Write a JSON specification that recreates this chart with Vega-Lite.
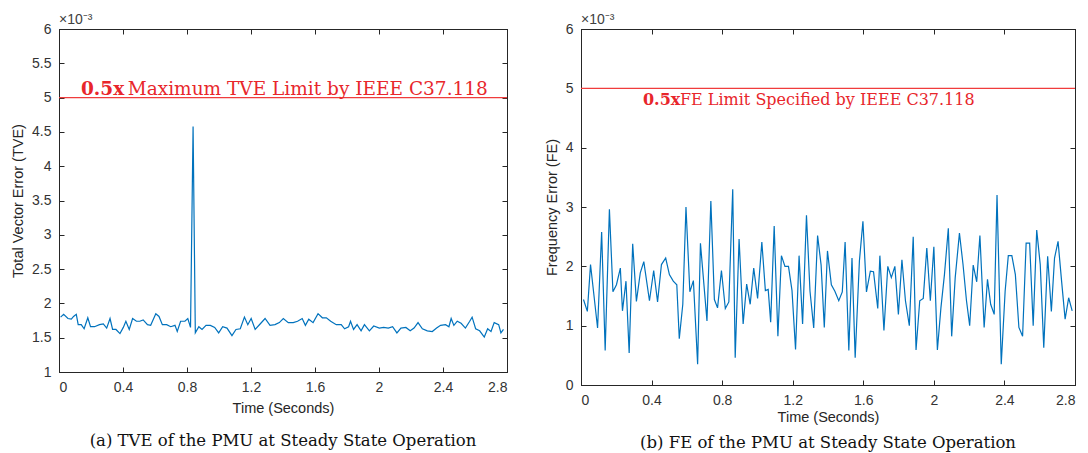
{
  "$schema": "https://vega.github.io/schema/vega-lite/v6.json",
  "background": "white",
  "padding": {"left": 10, "top": 12, "right": 3, "bottom": 2},
  "config": {
    "view": {"stroke": "#262626", "strokeWidth": 1},
    "concat": {"spacing": 34},
    "axis": {
      "grid": false,
      "labelFont": "Liberation Sans",
      "labelFontSize": 14,
      "labelColor": "#333333",
      "titleFont": "Liberation Sans",
      "titleFontSize": 14.5,
      "titleFontWeight": "normal",
      "titleColor": "#262626",
      "domainColor": "#262626",
      "tickColor": "#262626",
      "tickSize": -5,
      "labelPadding": 13,
      "format": "~g"
    },
    "title": {"font": "DejaVu Serif", "fontSize": 16.5, "fontWeight": "normal", "color": "#111111", "orient": "bottom", "anchor": "middle"}
  },
  "datasets": {
    "tve": [
      {"time": 0.010, "tve": 0.00180}, {"time": 0.029, "tve": 0.00184}, {"time": 0.056, "tve": 0.00178}, {"time": 0.077, "tve": 0.00177},
      {"time": 0.091, "tve": 0.00181}, {"time": 0.108, "tve": 0.00184}, {"time": 0.120, "tve": 0.00169}, {"time": 0.139, "tve": 0.00169},
      {"time": 0.157, "tve": 0.00163}, {"time": 0.180, "tve": 0.00179}, {"time": 0.197, "tve": 0.00166}, {"time": 0.222, "tve": 0.00166},
      {"time": 0.253, "tve": 0.00169}, {"time": 0.277, "tve": 0.00170}, {"time": 0.298, "tve": 0.00164}, {"time": 0.319, "tve": 0.00178},
      {"time": 0.335, "tve": 0.00162}, {"time": 0.356, "tve": 0.00162}, {"time": 0.381, "tve": 0.00156}, {"time": 0.402, "tve": 0.00165},
      {"time": 0.418, "tve": 0.00174}, {"time": 0.439, "tve": 0.00162}, {"time": 0.460, "tve": 0.00178}, {"time": 0.484, "tve": 0.00174},
      {"time": 0.505, "tve": 0.00174}, {"time": 0.526, "tve": 0.00176}, {"time": 0.553, "tve": 0.00169}, {"time": 0.573, "tve": 0.00168},
      {"time": 0.605, "tve": 0.00185}, {"time": 0.625, "tve": 0.00181}, {"time": 0.646, "tve": 0.00169}, {"time": 0.673, "tve": 0.00169},
      {"time": 0.698, "tve": 0.00166}, {"time": 0.725, "tve": 0.00168}, {"time": 0.739, "tve": 0.00159}, {"time": 0.760, "tve": 0.00174},
      {"time": 0.787, "tve": 0.00174}, {"time": 0.805, "tve": 0.00178}, {"time": 0.822, "tve": 0.00165}, {"time": 0.838, "tve": 0.00458},
      {"time": 0.852, "tve": 0.00157}, {"time": 0.874, "tve": 0.00166}, {"time": 0.894, "tve": 0.00162}, {"time": 0.919, "tve": 0.00168},
      {"time": 0.946, "tve": 0.00168}, {"time": 0.973, "tve": 0.00165}, {"time": 0.998, "tve": 0.00157}, {"time": 1.023, "tve": 0.00166},
      {"time": 1.050, "tve": 0.00164}, {"time": 1.081, "tve": 0.00153}, {"time": 1.106, "tve": 0.00162}, {"time": 1.133, "tve": 0.00163},
      {"time": 1.159, "tve": 0.00180}, {"time": 1.180, "tve": 0.00169}, {"time": 1.201, "tve": 0.00178}, {"time": 1.226, "tve": 0.00162},
      {"time": 1.257, "tve": 0.00170}, {"time": 1.288, "tve": 0.00178}, {"time": 1.319, "tve": 0.00168}, {"time": 1.350, "tve": 0.00169},
      {"time": 1.377, "tve": 0.00172}, {"time": 1.402, "tve": 0.00178}, {"time": 1.433, "tve": 0.00172}, {"time": 1.464, "tve": 0.00172},
      {"time": 1.491, "tve": 0.00174}, {"time": 1.520, "tve": 0.00178}, {"time": 1.540, "tve": 0.00168}, {"time": 1.561, "tve": 0.00177},
      {"time": 1.588, "tve": 0.00172}, {"time": 1.619, "tve": 0.00185}, {"time": 1.646, "tve": 0.00179}, {"time": 1.671, "tve": 0.00179},
      {"time": 1.698, "tve": 0.00174}, {"time": 1.733, "tve": 0.00169}, {"time": 1.764, "tve": 0.00169}, {"time": 1.785, "tve": 0.00163},
      {"time": 1.810, "tve": 0.00166}, {"time": 1.822, "tve": 0.00174}, {"time": 1.841, "tve": 0.00162}, {"time": 1.863, "tve": 0.00169},
      {"time": 1.888, "tve": 0.00160}, {"time": 1.909, "tve": 0.00169}, {"time": 1.940, "tve": 0.00160}, {"time": 1.967, "tve": 0.00167},
      {"time": 2.002, "tve": 0.00164}, {"time": 2.029, "tve": 0.00165}, {"time": 2.058, "tve": 0.00164}, {"time": 2.085, "tve": 0.00166},
      {"time": 2.112, "tve": 0.00157}, {"time": 2.137, "tve": 0.00164}, {"time": 2.168, "tve": 0.00165}, {"time": 2.195, "tve": 0.00160},
      {"time": 2.219, "tve": 0.00164}, {"time": 2.244, "tve": 0.00172}, {"time": 2.271, "tve": 0.00163}, {"time": 2.302, "tve": 0.00160},
      {"time": 2.333, "tve": 0.00159}, {"time": 2.360, "tve": 0.00164}, {"time": 2.385, "tve": 0.00168}, {"time": 2.416, "tve": 0.00169},
      {"time": 2.437, "tve": 0.00166}, {"time": 2.451, "tve": 0.00178}, {"time": 2.468, "tve": 0.00168}, {"time": 2.489, "tve": 0.00174},
      {"time": 2.513, "tve": 0.00171}, {"time": 2.540, "tve": 0.00164}, {"time": 2.567, "tve": 0.00174}, {"time": 2.582, "tve": 0.00180},
      {"time": 2.604, "tve": 0.00163}, {"time": 2.629, "tve": 0.00160}, {"time": 2.658, "tve": 0.00151}, {"time": 2.679, "tve": 0.00163},
      {"time": 2.700, "tve": 0.00159}, {"time": 2.720, "tve": 0.00172}, {"time": 2.748, "tve": 0.00169}, {"time": 2.762, "tve": 0.00157},
      {"time": 2.778, "tve": 0.00162}
    ],
    "fe": [
      {"time": 0.014, "fe": 0.00144}, {"time": 0.036, "fe": 0.00124}, {"time": 0.054, "fe": 0.00203}, {"time": 0.094, "fe": 0.00096},
      {"time": 0.117, "fe": 0.00258}, {"time": 0.137, "fe": 0.00058}, {"time": 0.161, "fe": 0.00296}, {"time": 0.181, "fe": 0.00157},
      {"time": 0.201, "fe": 0.00169}, {"time": 0.223, "fe": 0.00197}, {"time": 0.235, "fe": 0.00125}, {"time": 0.255, "fe": 0.00175},
      {"time": 0.273, "fe": 0.00054}, {"time": 0.293, "fe": 0.00238}, {"time": 0.314, "fe": 0.00141}, {"time": 0.336, "fe": 0.00189},
      {"time": 0.356, "fe": 0.00208}, {"time": 0.388, "fe": 0.00142}, {"time": 0.412, "fe": 0.00193}, {"time": 0.434, "fe": 0.00140},
      {"time": 0.456, "fe": 0.00203}, {"time": 0.480, "fe": 0.00214}, {"time": 0.501, "fe": 0.00186}, {"time": 0.523, "fe": 0.00175},
      {"time": 0.543, "fe": 0.00169}, {"time": 0.557, "fe": 0.00078}, {"time": 0.577, "fe": 0.00136}, {"time": 0.595, "fe": 0.00300},
      {"time": 0.617, "fe": 0.00157}, {"time": 0.637, "fe": 0.00176}, {"time": 0.661, "fe": 0.00035}, {"time": 0.677, "fe": 0.00239},
      {"time": 0.714, "fe": 0.00108}, {"time": 0.736, "fe": 0.00310}, {"time": 0.756, "fe": 0.00144}, {"time": 0.774, "fe": 0.00130},
      {"time": 0.796, "fe": 0.00193}, {"time": 0.818, "fe": 0.00129}, {"time": 0.838, "fe": 0.00140}, {"time": 0.860, "fe": 0.00330},
      {"time": 0.874, "fe": 0.00046}, {"time": 0.896, "fe": 0.00246}, {"time": 0.919, "fe": 0.00103}, {"time": 0.939, "fe": 0.00170},
      {"time": 0.959, "fe": 0.00136}, {"time": 0.979, "fe": 0.00197}, {"time": 1.001, "fe": 0.00146}, {"time": 1.025, "fe": 0.00241},
      {"time": 1.045, "fe": 0.00159}, {"time": 1.061, "fe": 0.00161}, {"time": 1.075, "fe": 0.00106}, {"time": 1.095, "fe": 0.00268},
      {"time": 1.116, "fe": 0.00082}, {"time": 1.136, "fe": 0.00218}, {"time": 1.156, "fe": 0.00200}, {"time": 1.176, "fe": 0.00200},
      {"time": 1.196, "fe": 0.00159}, {"time": 1.216, "fe": 0.00060}, {"time": 1.236, "fe": 0.00218}, {"time": 1.256, "fe": 0.00103},
      {"time": 1.278, "fe": 0.00286}, {"time": 1.298, "fe": 0.00158}, {"time": 1.319, "fe": 0.00096}, {"time": 1.341, "fe": 0.00252},
      {"time": 1.361, "fe": 0.00202}, {"time": 1.379, "fe": 0.00097}, {"time": 1.397, "fe": 0.00226}, {"time": 1.419, "fe": 0.00169},
      {"time": 1.439, "fe": 0.00158}, {"time": 1.461, "fe": 0.00142}, {"time": 1.481, "fe": 0.00157}, {"time": 1.497, "fe": 0.00241},
      {"time": 1.518, "fe": 0.00058}, {"time": 1.536, "fe": 0.00214}, {"time": 1.554, "fe": 0.00046}, {"time": 1.578, "fe": 0.00209},
      {"time": 1.598, "fe": 0.00276}, {"time": 1.618, "fe": 0.00157}, {"time": 1.640, "fe": 0.00192}, {"time": 1.658, "fe": 0.00191},
      {"time": 1.682, "fe": 0.00129}, {"time": 1.694, "fe": 0.00218}, {"time": 1.717, "fe": 0.00092}, {"time": 1.739, "fe": 0.00200},
      {"time": 1.759, "fe": 0.00181}, {"time": 1.779, "fe": 0.00200}, {"time": 1.799, "fe": 0.00119}, {"time": 1.819, "fe": 0.00211},
      {"time": 1.839, "fe": 0.00142}, {"time": 1.861, "fe": 0.00100}, {"time": 1.883, "fe": 0.00250}, {"time": 1.899, "fe": 0.00059},
      {"time": 1.920, "fe": 0.00142}, {"time": 1.940, "fe": 0.00146}, {"time": 1.960, "fe": 0.00231}, {"time": 1.980, "fe": 0.00142},
      {"time": 2.000, "fe": 0.00233}, {"time": 2.020, "fe": 0.00059}, {"time": 2.040, "fe": 0.00130}, {"time": 2.060, "fe": 0.00186},
      {"time": 2.082, "fe": 0.00264}, {"time": 2.101, "fe": 0.00082}, {"time": 2.121, "fe": 0.00181}, {"time": 2.145, "fe": 0.00256},
      {"time": 2.165, "fe": 0.00204}, {"time": 2.185, "fe": 0.00142}, {"time": 2.203, "fe": 0.00100}, {"time": 2.223, "fe": 0.00202},
      {"time": 2.243, "fe": 0.00174}, {"time": 2.261, "fe": 0.00252}, {"time": 2.285, "fe": 0.00097}, {"time": 2.304, "fe": 0.00178},
      {"time": 2.322, "fe": 0.00136}, {"time": 2.342, "fe": 0.00119}, {"time": 2.358, "fe": 0.00320}, {"time": 2.382, "fe": 0.00035},
      {"time": 2.404, "fe": 0.00158}, {"time": 2.422, "fe": 0.00218}, {"time": 2.442, "fe": 0.00218}, {"time": 2.462, "fe": 0.00186},
      {"time": 2.482, "fe": 0.00097}, {"time": 2.503, "fe": 0.00082}, {"time": 2.523, "fe": 0.00239}, {"time": 2.543, "fe": 0.00239},
      {"time": 2.563, "fe": 0.00100}, {"time": 2.583, "fe": 0.00261}, {"time": 2.603, "fe": 0.00203}, {"time": 2.623, "fe": 0.00063},
      {"time": 2.645, "fe": 0.00217}, {"time": 2.666, "fe": 0.00124}, {"time": 2.684, "fe": 0.00214}, {"time": 2.704, "fe": 0.00242},
      {"time": 2.724, "fe": 0.00175}, {"time": 2.744, "fe": 0.00111}, {"time": 2.764, "fe": 0.00147}, {"time": 2.784, "fe": 0.00125}
    ]
  },
  "hconcat": [
    {
      "width": 448,
      "height": 343,
      "title": {"text": "(a) TVE of the PMU at Steady State Operation", "offset": 18},
      "resolve": {"axis": {"x": "independent", "y": "independent"}},
      "layer": [
        {
          "data": {"name": "tve"},
          "mark": {"type": "line", "color": "#0072BD", "strokeWidth": 1.2},
          "encoding": {
            "x": {"field": "time", "type": "quantitative", "scale": {"domain": [0, 2.8], "nice": false, "zero": false},
                  "axis": {"orient": "bottom", "title": "Time (Seconds)", "values": [0, 0.4, 0.8, 1.2, 1.6, 2, 2.4, 2.8], "titlePadding": 7}},
            "y": {"field": "tve", "type": "quantitative", "scale": {"domain": [0.001, 0.006], "nice": false, "zero": false},
                  "axis": {"orient": "left", "title": "Total Vector Error (TVE)", "values": [0.001, 0.0015, 0.002, 0.0025, 0.003, 0.0035, 0.004, 0.0045, 0.005, 0.0055, 0.006],
                           "labelExpr": "format(datum.value * 1000, '~g')", "titlePadding": 6}}
          }
        },
        {
          "data": {"name": "tve"},
          "mark": {"type": "line", "strokeOpacity": 0},
          "encoding": {
            "x": {"field": "time", "type": "quantitative",
                  "axis": {"orient": "top", "title": null, "labels": false, "values": [0, 0.4, 0.8, 1.2, 1.6, 2, 2.4, 2.8]}},
            "y": {"field": "tve", "type": "quantitative",
                  "axis": {"orient": "right", "title": null, "labels": false, "values": [0.001, 0.0015, 0.002, 0.0025, 0.003, 0.0035, 0.004, 0.0045, 0.005, 0.0055, 0.006]}}
          }
        },
        {
          "data": {"values": [{}]},
          "mark": {"type": "rule", "color": "#f03c3c", "strokeWidth": 1.2},
          "encoding": {"y": {"datum": 0.005, "type": "quantitative", "axis": null}}
        },
        {
          "data": {"values": [{}]},
          "mark": {"type": "text", "font": "DejaVu Serif", "fontSize": 18.5, "fontWeight": "bold", "color": "#e8262b", "align": "left", "baseline": "alphabetic", "dy": -3},
          "encoding": {
            "x": {"datum": 0.1375, "type": "quantitative", "axis": null},
            "y": {"datum": 0.005, "type": "quantitative", "axis": null},
            "text": {"value": "0.5x"}
          }
        },
        {
          "data": {"values": [{}]},
          "mark": {"type": "text", "font": "DejaVu Serif", "fontSize": 18.5, "color": "#e8262b", "align": "left", "baseline": "alphabetic", "dy": -3},
          "encoding": {
            "x": {"datum": 0.43, "type": "quantitative", "axis": null},
            "y": {"datum": 0.005, "type": "quantitative", "axis": null},
            "text": {"value": "Maximum TVE Limit by IEEE C37.118"}
          }
        },
        {
          "data": {"values": [{}]},
          "mark": {"type": "text", "font": "Liberation Sans", "fontSize": 14, "color": "#404040", "align": "left", "baseline": "alphabetic", "dy": -5},
          "encoding": {
            "x": {"datum": 0, "type": "quantitative", "axis": null},
            "y": {"datum": 0.006, "type": "quantitative", "axis": null},
            "text": {"value": "×10⁻³"}
          }
        }
      ]
    },
    {
      "width": 494,
      "height": 356,
      "title": {"text": "(b) FE of the PMU at Steady State Operation", "offset": 11},
      "resolve": {"axis": {"x": "independent", "y": "independent"}},
      "layer": [
        {
          "data": {"name": "fe"},
          "mark": {"type": "line", "color": "#0072BD", "strokeWidth": 1.2},
          "encoding": {
            "x": {"field": "time", "type": "quantitative", "scale": {"domain": [0, 2.8], "nice": false, "zero": false},
                  "axis": {"orient": "bottom", "title": "Time (Seconds)", "values": [0, 0.4, 0.8, 1.2, 1.6, 2, 2.4, 2.8], "titlePadding": 3}},
            "y": {"field": "fe", "type": "quantitative", "scale": {"domain": [0, 0.006], "nice": false},
                  "axis": {"orient": "left", "title": "Frequency Error (FE)", "values": [0, 0.001, 0.002, 0.003, 0.004, 0.005, 0.006],
                           "labelExpr": "format(datum.value * 1000, '~g')", "titlePadding": 6}}
          }
        },
        {
          "data": {"name": "fe"},
          "mark": {"type": "line", "strokeOpacity": 0},
          "encoding": {
            "x": {"field": "time", "type": "quantitative",
                  "axis": {"orient": "top", "title": null, "labels": false, "values": [0, 0.4, 0.8, 1.2, 1.6, 2, 2.4, 2.8]}},
            "y": {"field": "fe", "type": "quantitative",
                  "axis": {"orient": "right", "title": null, "labels": false, "values": [0, 0.001, 0.002, 0.003, 0.004, 0.005, 0.006]}}
          }
        },
        {
          "data": {"values": [{}]},
          "mark": {"type": "rule", "color": "#f03c3c", "strokeWidth": 1.2},
          "encoding": {"y": {"datum": 0.005, "type": "quantitative", "axis": null}}
        },
        {
          "data": {"values": [{}]},
          "mark": {"type": "text", "font": "DejaVu Serif", "fontSize": 16, "fontWeight": "bold", "color": "#e8262b", "align": "left", "baseline": "alphabetic", "dy": 17},
          "encoding": {
            "x": {"datum": 0.351, "type": "quantitative", "axis": null},
            "y": {"datum": 0.005, "type": "quantitative", "axis": null},
            "text": {"value": "0.5x"}
          }
        },
        {
          "data": {"values": [{}]},
          "mark": {"type": "text", "font": "DejaVu Serif", "fontSize": 16, "color": "#e8262b", "align": "left", "baseline": "alphabetic", "dy": 17},
          "encoding": {
            "x": {"datum": 0.561, "type": "quantitative", "axis": null},
            "y": {"datum": 0.005, "type": "quantitative", "axis": null},
            "text": {"value": "FE Limit Specified by IEEE C37.118"}
          }
        },
        {
          "data": {"values": [{}]},
          "mark": {"type": "text", "font": "Liberation Sans", "fontSize": 14, "color": "#404040", "align": "left", "baseline": "alphabetic", "dy": -5},
          "encoding": {
            "x": {"datum": 0, "type": "quantitative", "axis": null},
            "y": {"datum": 0.006, "type": "quantitative", "axis": null},
            "text": {"value": "×10⁻³"}
          }
        }
      ]
    }
  ]
}
